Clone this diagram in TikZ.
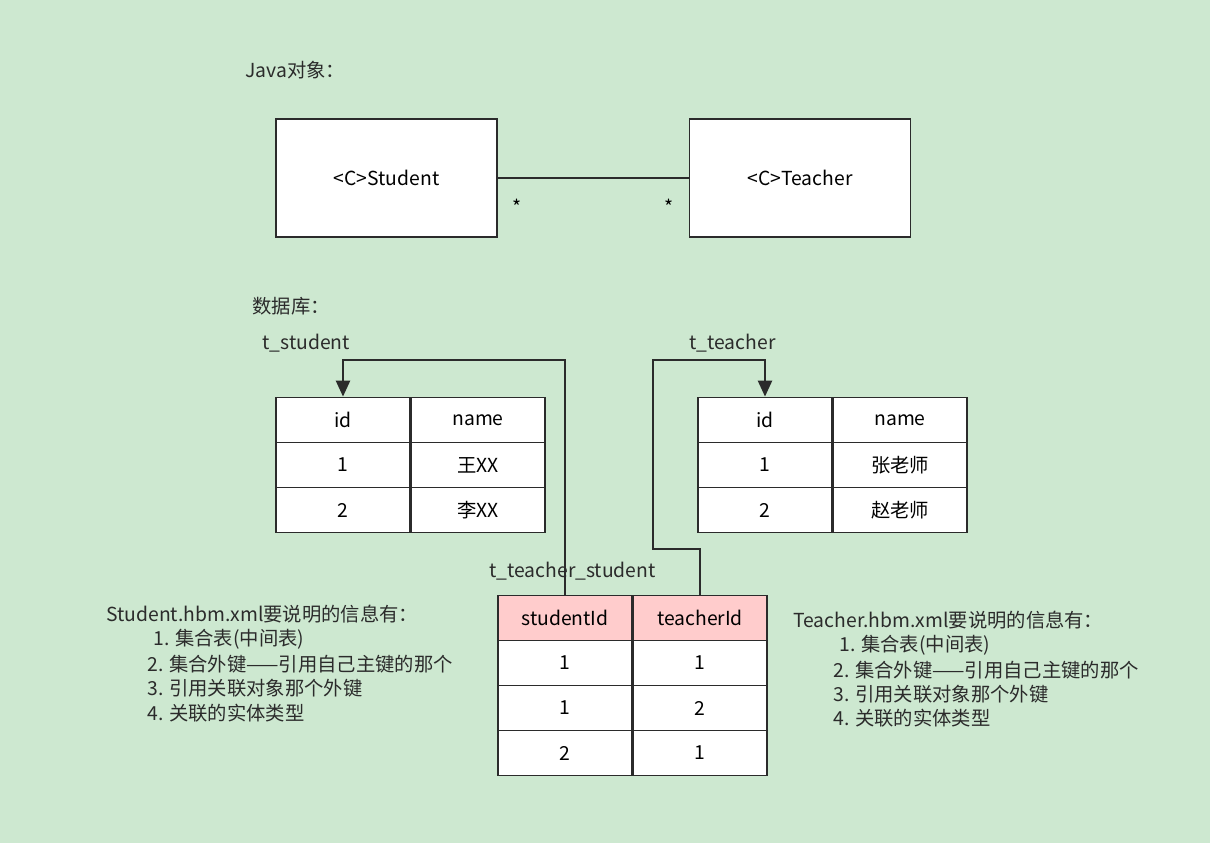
\documentclass[tikz,border=0pt]{standalone}
\usepackage{fontspec}
\setmainfont{Noto Sans CJK SC}
\usetikzlibrary{arrows.meta}
\definecolor{bg}{HTML}{CDE8D0}
\definecolor{hdr}{HTML}{FFCCCC}
\definecolor{ln}{HTML}{2B2B2B}
\tikzset{
  box/.style={draw=ln, fill=white, line width=1.1pt, minimum width=4.42cm, minimum height=2.36cm},
  cell/.style={draw=ln, fill=white, line width=1.1pt, minimum width=2.68cm, minimum height=0.9cm, inner sep=0pt},
  head/.style={cell, fill=hdr},
  lbl/.style={anchor=west, inner sep=0pt, text=ln},
  link/.style={draw=ln, line width=1.1pt}
}
\begin{document}
\begin{tikzpicture}[x=0.02cm, y=-0.02cm, font=\fontsize{11}{13}\selectfont]
	\fill[bg] (0,0) rectangle (1210,843);
	\useasboundingbox (0,0) rectangle (1210,843);
	% Java objects
	\node[lbl] (jt) at (245,70) {Java对象：};
	\node[box] (S) at (386.5,178) {<C>Student};
	\node[box] (T) at (800,178) {<C>Teacher};
	\draw[link] (S.east) -- node[pos=0.1, below=8pt] {*} node[pos=0.9, below=8pt] {*} (T.west);
	% database
	\node[lbl] (db) at (252,306) {数据库：};
	\node[lbl] (tsn) at (262,343) {t\_student};
	\node[cell] (sid) at (343,420) {id};
	\node[cell] (sname) at (478,420) {name};
	\node[cell] (s1) at (343,465) {1};
	\node[cell] (s1n) at (478,465) {王XX};
	\node[cell] (s2) at (343,510) {2};
	\node[cell] (s2n) at (478,510) {李XX};
	\node[lbl] (ttn) at (689,343) {t\_teacher};
	\node[cell] (tid) at (765,420) {id};
	\node[cell] (tname) at (900,420) {name};
	\node[cell] (t1) at (765,465) {1};
	\node[cell] (t1n) at (900,465) {张老师};
	\node[cell] (t2) at (765,510) {2};
	\node[cell] (t2n) at (900,510) {赵老师};
	\node[lbl] (tsm) at (489,571) {t\_teacher\_student};
	\node[head] (msid) at (565,618) {studentId};
	\node[head] (mtid) at (700,618) {teacherId};
	\node[cell] (m1a) at (565,663) {1};
	\node[cell] (m1b) at (700,663) {1};
	\node[cell] (m2a) at (565,708) {1};
	\node[cell] (m2b) at (700,708) {2};
	\node[cell] (m3a) at (565,753) {2};
	\node[cell] (m3b) at (700,753) {1};
	% foreign key links
	\coordinate (c1) at (343,360);
	\coordinate (c2) at (653,360);
	\draw[link, -{Triangle[length=9pt,width=8pt]}] (msid.north) |- (c1) -- (sid.north);
	\draw[link, -{Triangle[length=9pt,width=8pt]}] (mtid.north) -- ++(0,-46) -| (c2) -| (tid.north);
	% notes
	\node[lbl] (ln0) at (106,614) {Student.hbm.xml要说明的信息有：};
	\node[lbl] (ln1) at (153,639) {1. 集合表(中间表)};
	\node[lbl] (ln2) at (147,664) {2. 集合外键——引用自己主键的那个};
	\node[lbl] (ln3) at (147,688) {3. 引用关联对象那个外键};
	\node[lbl] (ln4) at (147,713) {4. 关联的实体类型};
	\node[lbl] (rn0) at (793,620) {Teacher.hbm.xml要说明的信息有：};
	\node[lbl] (rn1) at (839,645) {1. 集合表(中间表)};
	\node[lbl] (rn2) at (833,670) {2. 集合外键——引用自己主键的那个};
	\node[lbl] (rn3) at (833,694) {3. 引用关联对象那个外键};
	\node[lbl] (rn4) at (833,718) {4. 关联的实体类型};
\end{tikzpicture}
\end{document}
